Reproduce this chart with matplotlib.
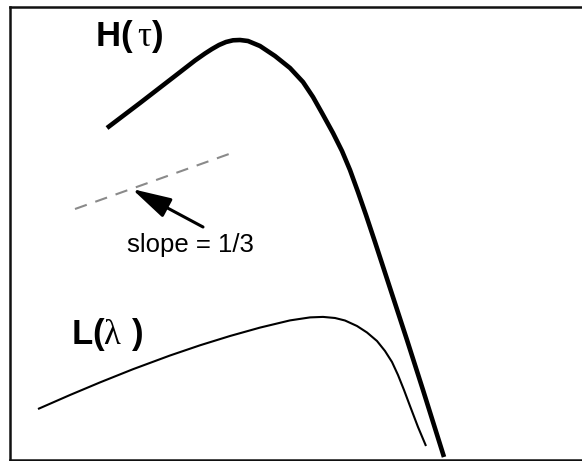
import matplotlib
matplotlib.use("Agg")
import matplotlib.pyplot as plt

plt.rcParams['font.family'] = ['Liberation Sans', 'DejaVu Sans']
plt.rcParams['mathtext.fontset'] = 'custom'
plt.rcParams['mathtext.bf'] = 'Liberation Sans:bold'
plt.rcParams['mathtext.rm'] = 'Liberation Serif'
plt.rcParams['lines.scale_dashes'] = False

# Curve shapes (x to the right, y downwards)
h_x = [107, 140, 175, 195, 205, 212, 219, 226, 233, 240, 248, 260, 275, 290,
       303, 313, 322, 333, 342, 350, 358, 366, 375, 390, 407, 423, 444]
h_y = [128, 103, 76, 60.5, 53.5, 49, 45, 42, 40.3, 40, 41, 46, 56, 68,
       82, 97, 113, 133, 151, 170, 192, 215, 242, 288, 340, 390, 457]

l_x = [38, 70, 100, 133, 170, 200, 230, 260, 290, 310, 323, 335, 345, 357,
       367, 377, 385, 392, 398, 404, 410, 418, 426]
l_y = [409, 395, 382.4, 369.2, 355.5, 345.3, 336, 327.6, 320.4, 317.4, 316.9,
       318, 320.5, 326, 332.5, 341, 351, 362, 375, 390, 406, 427, 446]

slope_x = [75, 229]
slope_y = [209, 154]

arrow_tail = (203, 227)
arrow_head = (132, 189)

fig = plt.figure(figsize=(5.82, 4.61), dpi=100)
ax = fig.add_axes([10 / 582, 1 - 460 / 461, 1 - 10 / 582, (460 - 7.5) / 461])
ax.set_xlim(10, 582)
ax.set_ylim(460, 7.5)
ax.set_xticks([])
ax.set_yticks([])
for side in ['left', 'top', 'bottom']:
    ax.spines[side].set_linewidth(1.8)
    ax.spines[side].set_color('#111111')
ax.spines['right'].set_visible(False)

ax.plot(h_x, h_y, color='black', lw=3.3, solid_joinstyle='round',
        solid_capstyle='butt')
ax.plot(l_x, l_y, color='black', lw=1.5, solid_joinstyle='round',
        solid_capstyle='butt')
ax.plot(slope_x, slope_y, color='#8a8a8a', lw=1.5, dashes=(9, 6.5))

ax.annotate('', xy=arrow_head, xytext=arrow_tail,
            arrowprops=dict(arrowstyle='-|>,head_length=1.2,head_width=0.32',
                            mutation_scale=20, color='black', lw=2.2,
                            shrinkA=0, shrinkB=0))

ax.text(127, 252, 'slope = 1/3', fontsize=18.5, va='baseline', ha='left')
ax.text(95, 46, r'$\mathbf{H(}\,\mathrm{\tau}\mathbf{)}$', fontsize=25,
        va='baseline', ha='left')
ax.text(71, 344, r'$\mathbf{L(}\mathrm{\lambda}\ \mathbf{)}$', fontsize=25,
        va='baseline', ha='left')

fig.savefig('out.png', dpi=100)
